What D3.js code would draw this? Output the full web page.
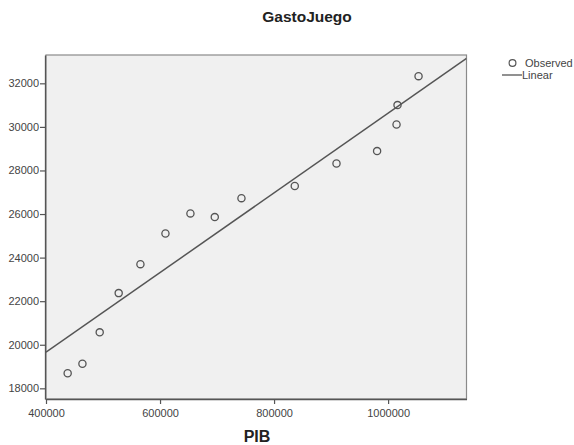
<!DOCTYPE html>
<html><head><meta charset="utf-8">
<script src="https://cdn.jsdelivr.net/npm/d3@7"></script>
<style>body{margin:0;background:#fff;}svg{display:block;font-family:"Liberation Sans",Arial,sans-serif;}</style>
</head><body>
<svg id="c" width="574" height="445"></svg>
<script>
const pib = [438000, 463900, 494200, 527500, 565600, 609500, 653300, 696000, 742800, 836300, 909500, 980700, 1014800, 1016500, 1053400];
const gastoJuego = [18690, 19130, 20570, 22370, 23700, 25110, 26030, 25860, 26730, 27290, 28320, 28890, 30110, 31000, 32330];
const fitIntercept = 12340;
const fitSlope = 0.01829;
const xTicks = [400000, 600000, 800000, 1000000];
const yTicks = [18000, 20000, 22000, 24000, 26000, 28000, 30000, 32000];
const xDomain = [400000, 1137500];
const yDomain = [17510, 33300];

const svg = d3.select("#c");
const L = 46, R = 466.5, T = 55, B = 399;
const x = d3.scaleLinear().domain(xDomain).range([L, R]);
const y = d3.scaleLinear().domain(yDomain).range([B, T]);

svg.append("rect").attr("x", L).attr("y", T).attr("width", R - L).attr("height", B - T)
  .attr("fill", "#f0f0f0").attr("stroke", "#8a8a8a").attr("stroke-width", 1.2);

const xAxis = svg.append("g").attr("transform", `translate(0,${B})`)
  .call(d3.axisBottom(x).tickValues(xTicks).tickFormat(d3.format("d")).tickSize(5).tickSizeOuter(0));
const yAxis = svg.append("g").attr("transform", `translate(${L - 1},0)`)
  .call(d3.axisLeft(y).tickValues(yTicks).tickFormat(d3.format("d")).tickSize(5).tickSizeOuter(0));
[xAxis, yAxis].forEach(a => {
  a.select(".domain").attr("stroke", "#555").attr("stroke-width", 1.3);
  a.selectAll(".tick line").attr("stroke", "#555").attr("stroke-width", 1.2);
  a.selectAll(".tick text").attr("fill", "#444").attr("font-size", 11).attr("font-family", "Liberation Sans, Arial, sans-serif");
});
xAxis.selectAll(".tick text").attr("dy", "0.95em");
yAxis.selectAll(".tick text").attr("x", -6);

svg.append("clipPath").attr("id", "clp").append("rect")
  .attr("x", L).attr("y", T).attr("width", R - L).attr("height", B - T);
svg.append("line").attr("clip-path", "url(#clp)")
  .attr("x1", x(xDomain[0])).attr("y1", y(fitIntercept + fitSlope * xDomain[0]))
  .attr("x2", x(xDomain[1])).attr("y2", y(fitIntercept + fitSlope * xDomain[1]))
  .attr("stroke", "#555").attr("stroke-width", 1.5);

svg.append("g").selectAll("circle").data(pib.map((v, i) => [v, gastoJuego[i]])).join("circle")
  .attr("cx", d => x(d[0])).attr("cy", d => y(d[1])).attr("r", 3.6)
  .attr("fill", "none").attr("stroke", "#555").attr("stroke-width", 1.3);

svg.append("text").attr("x", 307).attr("y", 22).attr("text-anchor", "middle")
  .attr("font-size", 15.5).attr("font-weight", "bold").attr("fill", "#222").text("GastoJuego");
svg.append("text").attr("x", 257).attr("y", 442).attr("text-anchor", "middle")
  .attr("font-size", 16).attr("font-weight", "bold").attr("fill", "#222").text("PIB");

const lg = svg.append("g");
lg.append("circle").attr("cx", 512.5).attr("cy", 63).attr("r", 3.4).attr("fill", "none").attr("stroke", "#555").attr("stroke-width", 1.2);
lg.append("text").attr("x", 525).attr("y", 67).attr("font-size", 11).attr("fill", "#444").text("Observed");
lg.append("line").attr("x1", 502).attr("x2", 522).attr("y1", 75).attr("y2", 75).attr("stroke", "#555").attr("stroke-width", 1.3);
lg.append("text").attr("x", 522).attr("y", 79).attr("font-size", 11).attr("fill", "#444").text("Linear");
</script>
</body></html>
